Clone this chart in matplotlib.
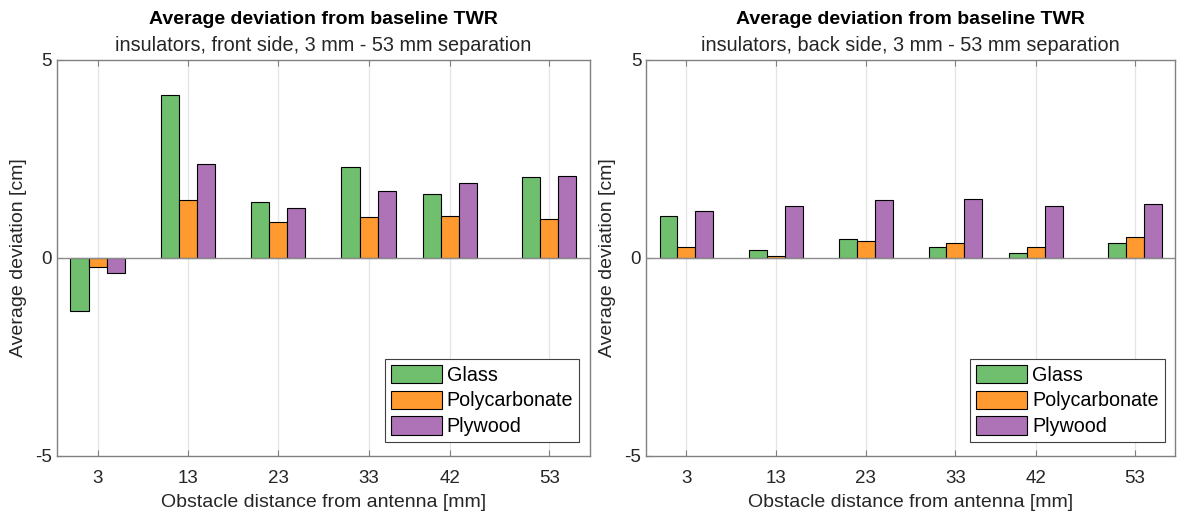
import numpy as np
import matplotlib
matplotlib.use('Agg')
import matplotlib.pyplot as plt

plt.rcParams['font.family'] = ['Liberation Sans', 'DejaVu Sans']
plt.rcParams['axes.unicode_minus'] = False

distances = [3, 13, 23, 33, 42, 53]
materials = ['Glass', 'Polycarbonate', 'Plywood']

# front side
front_glass = [-1.35, 4.11, 1.41, 2.29, 1.62, 2.04]
front_poly = [-0.23, 1.46, 0.91, 1.03, 1.07, 0.98]
front_ply = [-0.38, 2.38, 1.26, 1.70, 1.90, 2.08]

# back side
back_glass = [1.07, 0.21, 0.48, 0.29, 0.13, 0.37]
back_poly = [0.28, 0.05, 0.44, 0.39, 0.28, 0.53]
back_ply = [1.19, 1.32, 1.47, 1.50, 1.32, 1.37]

titles = ['insulators, front side, 3 mm - 53 mm separation',
          'insulators, back side, 3 mm - 53 mm separation']
colors = ['#70bf6e', '#ff9a30', '#ae72b6']

fig = plt.figure(figsize=(11.79, 5.18), dpi=100)
ax_l = fig.add_axes([0.0483, 0.1197, 0.452, 0.7645])
ax_r = fig.add_axes([0.548, 0.1197, 0.4487, 0.7645])

data = [[front_glass, front_poly, front_ply], [back_glass, back_poly, back_ply]]
x = np.array(distances, dtype=float)
bw = 2.0
for ax, series, sub in zip([ax_l, ax_r], data, titles):
    for i, (vals, c, lab) in enumerate(zip(series, colors, materials)):
        ax.bar(x + (i - 1) * bw, vals, width=bw, color=c, edgecolor='black',
               linewidth=0.8, label=lab, zorder=3)
    ax.axhline(0, color='#8c8c8c', linewidth=1.0, zorder=4)
    ax.set_xlim(-1.5, 57.5)
    ax.set_ylim(-5, 5)
    ax.set_xticks(distances)
    ax.set_yticks([-5, 0, 5])
    ax.tick_params(axis='both', direction='in', top=True, right=False,
                   labelsize=13.5, labelcolor='#262626', color='#808080', length=4)
    ax.tick_params(axis='x', pad=10)
    ax.tick_params(axis='y', pad=3.5)
    ax.grid(axis='x', color='#e4e4e4', linewidth=0.9, zorder=0)
    for sp in ax.spines.values():
        sp.set_color('#808080')
        sp.set_linewidth(1.0)
    ax.set_xlabel('Obstacle distance from antenna [mm]', fontsize=14, color='#262626',
                  labelpad=5)
    ax.set_ylabel('Average deviation [cm]', fontsize=14, color='#262626', labelpad=6)
    ax.text(0.5, 1.09, 'Average deviation from baseline TWR', transform=ax.transAxes,
            ha='center', va='baseline', fontsize=14, fontweight='bold', color='black')
    ax.text(0.5, 1.022, sub, transform=ax.transAxes, ha='center', va='baseline',
            fontsize=14.3, color='#262626')
    leg = ax.legend(loc='lower right', bbox_to_anchor=(0.98, 0.035), fontsize=14.2,
                    handlelength=2.6, handleheight=1.05, borderaxespad=0,
                    fancybox=False, framealpha=1, edgecolor='#404040',
                    borderpad=0.3, labelspacing=0.3, handletextpad=0.25)
    leg.get_frame().set_linewidth(0.8)

fig.savefig('out.png', dpi=100)
